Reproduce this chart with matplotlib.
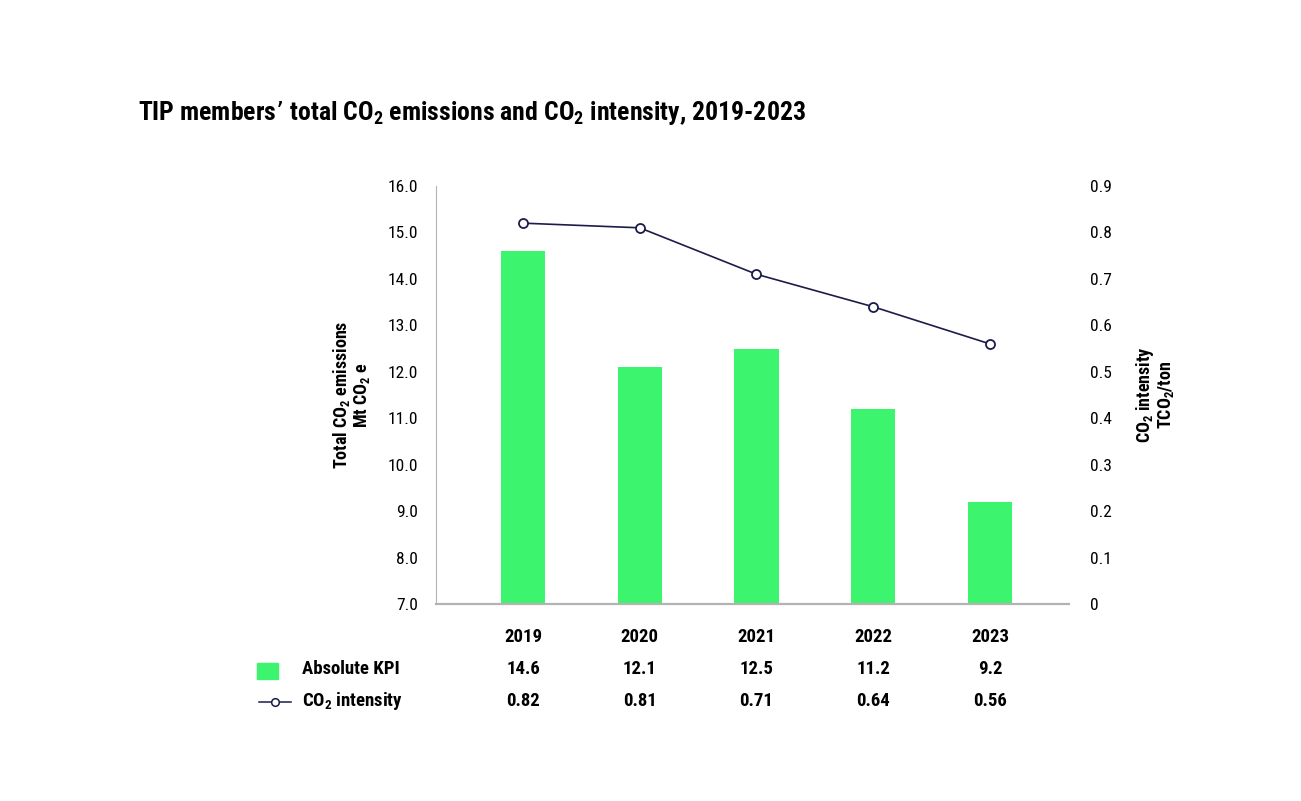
import matplotlib
matplotlib.use("Agg")
import matplotlib.pyplot as plt
from matplotlib.lines import Line2D
from matplotlib.patches import Rectangle
from matplotlib import font_manager

years = ["2019", "2020", "2021", "2022", "2023"]
absolute_kpi = [14.6, 12.1, 12.5, 11.2, 9.2]
co2_intensity = [0.82, 0.81, 0.71, 0.64, 0.56]
left_ticks = [7.0, 8.0, 9.0, 10.0, 11.0, 12.0, 13.0, 14.0, 15.0, 16.0]
right_ticks = [0, 0.1, 0.2, 0.3, 0.4, 0.5, 0.6, 0.7, 0.8, 0.9]

available = {f.name for f in font_manager.fontManager.ttflist}
primary = "Lato"
for cand in ["Roboto Condensed", "Liberation Sans Narrow", "Open Sans Condensed",
             "IBM Plex Sans Condensed", "Lato"]:
    if cand in available:
        primary = cand
        break
FONT = [primary, "DejaVu Sans"]
plt.rcParams["font.family"] = FONT
plt.rcParams["mathtext.default"] = "regular"

GREEN = "#3cf46e"
NAVY = "#1c1c4a"
GRAY = "#b3b3b3"

W, H = 1301, 801
fig = plt.figure(figsize=(W / 100, H / 100), dpi=100)
ax = fig.add_axes([436 / W, 1 - 604 / H, (1069 - 436) / W, (604 - 186) / H])
ax2 = ax.twinx()

x = list(range(len(years)))
ax.bar(x, absolute_kpi, width=0.38, color=GREEN, bottom=0)
ax.set_ylim(7.0, 16.0)
ax.set_xlim(-0.745, 4.677)
ax.set_yticks(left_ticks)
ax.set_yticklabels([f"{v:.1f}" for v in left_ticks], fontsize=12.5)
ax.set_xticks([])
ax.tick_params(axis="y", length=0, pad=13)

ax2.plot(x, co2_intensity, color=NAVY, lw=1.2, marker="o", ms=6.5,
         mfc="white", mec=NAVY, mew=1.3, zorder=5)
ax2.set_ylim(0, 0.9)
ax2.set_yticks(right_ticks)
ax2.set_yticklabels([f"{v:g}" for v in right_ticks], fontsize=12.5)
ax2.tick_params(axis="y", length=0, pad=15)

for a in (ax, ax2):
    for s in ("top", "right"):
        a.spines[s].set_visible(False)
ax2.spines["left"].set_visible(False)
ax2.spines["bottom"].set_visible(False)
ax.spines["left"].set_color(GRAY)
ax.spines["bottom"].set_color(GRAY)
ax.spines["bottom"].set_linewidth(1.6)

ax.set_ylabel("Total CO$_2$ emissions\nMt CO$_2$ e", fontsize=13, fontweight="bold",
              labelpad=11, linespacing=1.0)
ax2.set_ylabel("CO$_2$ intensity\nTCO$_2$/ton", fontsize=13, fontweight="bold",
               rotation=90, labelpad=16, linespacing=1.0)

fig.text(138 / W, 1 - 113 / H,
         "TIP members\u2019 total CO$_2$ emissions and CO$_2$ intensity, 2019-2023",
         fontsize=18.5, fontweight="bold", ha="left", va="center")

def fx(i):
    return ax.transData.transform((i, 0))[0] / W

fig.canvas.draw()
for i, yr in enumerate(years):
    xf = fx(i)
    fig.text(xf, 1 - 637 / H, yr, ha="center", va="center", fontsize=13.5, fontweight="bold")
    fig.text(xf, 1 - 669 / H, f"{absolute_kpi[i]:.1f}", ha="center", va="center",
             fontsize=13.5, fontweight="bold")
    fig.text(xf, 1 - 701 / H, f"{co2_intensity[i]:.2f}", ha="center", va="center",
             fontsize=13.5, fontweight="bold")

fig.patches.append(Rectangle((257 / W, 1 - 679 / H), 21 / W, 16 / H,
                             transform=fig.transFigure, color=GREEN, figure=fig))
fig.lines.append(Line2D([259 / W, 291 / W], [1 - 702 / H, 1 - 702 / H],
                        transform=fig.transFigure, color=NAVY, lw=1.1, figure=fig))
fig.lines.append(Line2D([275 / W], [1 - 702 / H], transform=fig.transFigure,
                        marker="o", ms=5.5, mfc="white", mec=NAVY, mew=1.1,
                        ls="none", figure=fig))
fig.text(302 / W, 1 - 669 / H, "Absolute KPI", ha="left", va="center",
         fontsize=13.5, fontweight="bold")
fig.text(302 / W, 1 - 701 / H, "CO$_2$ intensity", ha="left", va="center",
         fontsize=13.5, fontweight="bold")

fig.savefig("out.png", dpi=100, facecolor="white")
